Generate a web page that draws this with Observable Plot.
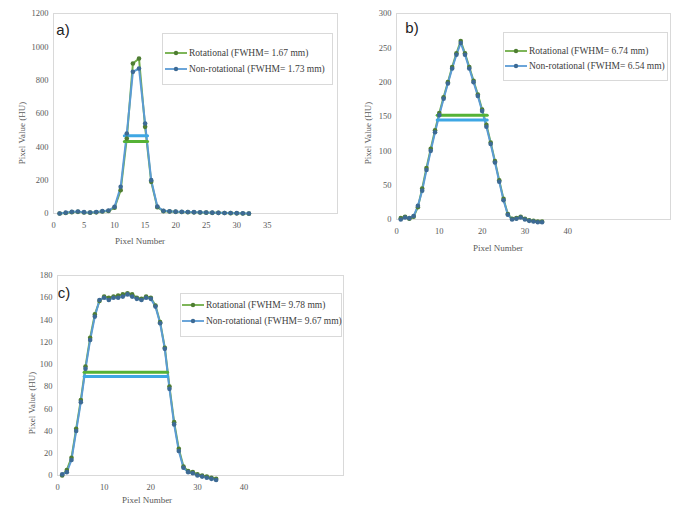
<!DOCTYPE html>
<html><head><meta charset="utf-8">
<script src="https://cdn.jsdelivr.net/npm/d3@7"></script>
<script src="https://cdn.jsdelivr.net/npm/@observablehq/plot@0.6"></script>
<style>
body{margin:0;background:#fff}
#root{position:relative;width:679px;height:510px;overflow:hidden;background:#fff;font-family:"Liberation Serif",serif;color:#595959}
.abs{position:absolute;white-space:nowrap}
.ytitle{font-size:9px;transform:translate(-50%,-50%) rotate(-90deg)}
.xtitle{font-size:9px;transform:translate(-50%,-50%)}
.plabel{font-family:"Liberation Sans",sans-serif;font-size:15px;color:#222;transform:translate(-50%,-50%)}
.legend{border:1px solid #d9d9d9;background:#fff;box-sizing:border-box}
.lrow{position:absolute;font-size:9.5px;color:#404040;display:flex;align-items:center;transform:translateY(-50%);white-space:nowrap}
</style></head>
<body><div id="root"></div>
<script>
// ---------- Panel a ----------
const pixA = [1,2,3,4,5,6,7,8,9,10,11,12,13,14,15,16,17,18,19,20,21,22,23,24,25,26,27,28,29,30,31,32];
const rotA = [0,3,8,10,6,5,7,12,15,35,140,450,900,930,520,190,38,14,12,10,9,8,7,6,5,4,4,3,2,1,0,-1];
const nonA = [0,5,10,12,8,6,9,14,18,40,160,480,850,870,540,200,42,16,13,11,10,9,8,7,6,5,4,3,3,2,1,0];
const fwhmXA = [11.6, 15.4];
const fwhmRotA = 432, fwhmNonA = 466;
const yTicksA = [0,200,400,600,800,1000,1200];
const xTicksA = [0,5,10,15,20,25,30,35];
const legendA = ["Rotational (FWHM= 1.67 mm)", "Non-rotational (FWHM= 1.73 mm)"];

// ---------- Panel b ----------
const pixB = [1,2,3,4,5,6,7,8,9,10,11,12,13,14,15,16,17,18,19,20,21,22,23,24,25,26,27,28,29,30,31,32,33,34];
const rotB = [2,4,1,4,18,45,75,103,130,155,178,200,222,242,260,242,222,202,182,160,138,112,85,57,30,8,1,2,4,1,-1,-2,-3,-3];
const nonB = [0,3,2,5,20,42,72,100,127,152,176,198,220,240,257,240,220,200,180,158,135,110,83,55,28,7,0,1,3,0,-2,-3,-4,-4];
const fwhmXB = [9.5, 21.2];
const fwhmRotB = 152, fwhmNonB = 145;
const yTicksB = [0,50,100,150,200,250,300];
const xTicksB = [0,10,20,30,40];
const legendB = ["Rotational (FWHM= 6.74 mm)", "Non-rotational (FWHM= 6.54 mm)"];

// ---------- Panel c ----------
const pixC = [1,2,3,4,5,6,7,8,9,10,11,12,13,14,15,16,17,18,19,20,21,22,23,24,25,26,27,28,29,30,31,32,33,34];
const rotC = [0,5,16,42,68,98,124,145,157,161,160,161,162,163,164,163,160,159,161,160,153,138,115,80,48,24,8,4,3,1,0,-1,-2,-3];
const nonC = [1,3,14,40,66,96,122,143,158,160,158,160,160,161,163,161,159,158,160,159,152,137,114,78,46,22,7,3,2,0,-1,-2,-3,-4];
const fwhmXC = [5.7, 23.6];
const fwhmRotC = 93, fwhmNonC = 89;
const yTicksC = [0,20,40,60,80,100,120,140,160,180];
const xTicksC = [0,10,20,30,40];
const legendC = ["Rotational (FWHM= 9.78 mm)", "Non-rotational (FWHM= 9.67 mm)"];

const xTitle = "Pixel Number", yTitle = "Pixel Value (HU)";

const GREEN = "#70AD47", BLUE = "#5B9BD5";
const GREEN_M = "#4f7d33", BLUE_M = "#3d6a94";
const GREEN_F = "#55b236", BLUE_F = "#3ea7e4";

const root = document.getElementById("root");

function addDiv(cls, x, y, text, extra) {
  const d = document.createElement("div");
  d.className = "abs " + cls;
  d.style.left = x + "px"; d.style.top = y + "px";
  if (text != null) d.textContent = text;
  if (extra) Object.assign(d.style, extra);
  root.appendChild(d);
  return d;
}

function legendSwatch(stroke, fill) {
  const ns = "http://www.w3.org/2000/svg";
  const s = document.createElementNS(ns, "svg");
  s.setAttribute("width", 22); s.setAttribute("height", 6);
  s.style.marginRight = "2px";
  const l = document.createElementNS(ns, "line");
  l.setAttribute("x1", 0); l.setAttribute("x2", 22); l.setAttribute("y1", 3); l.setAttribute("y2", 3);
  l.setAttribute("stroke", stroke); l.setAttribute("stroke-width", 1.8);
  const c = document.createElementNS(ns, "circle");
  c.setAttribute("cx", 11); c.setAttribute("cy", 3); c.setAttribute("r", 2.2); c.setAttribute("fill", fill);
  s.appendChild(l); s.appendChild(c);
  return s;
}

function panel(cfg) {
  const series = [];
  cfg.pix.forEach((p, i) => series.push({p, v: cfg.rot[i], s: "rot"}));
  cfg.pix.forEach((p, i) => series.push({p, v: cfg.non[i], s: "non"}));
  const rot = series.filter(d => d.s === "rot"), non = series.filter(d => d.s === "non");
  const fwR = cfg.fwX.map(x => ({x, y: cfg.fwRot}));
  const fwN = cfg.fwX.map(x => ({x, y: cfg.fwNon}));
  const svg = Plot.plot({
    width: cfg.w, height: cfg.h,
    marginLeft: cfg.ml, marginRight: cfg.mr, marginTop: cfg.mt, marginBottom: cfg.mb,
    style: {fontFamily: "'Liberation Serif', serif", fontSize: "8.5px", color: "#595959", background: "transparent", overflow: "visible"},
    x: {domain: [0, cfg.xMax]},
    y: {domain: [0, cfg.yMax]},
    marks: [
      Plot.frame({stroke: "#d9d9d9"}),
      Plot.axisX({ticks: cfg.xTicks, tickSize: 0, tickPadding: 8, label: null, tickFormat: d => String(d), fill: "#595959"}),
      Plot.axisY({ticks: cfg.yTicks, tickSize: 0, tickPadding: 5, label: null, tickFormat: d => String(d), fill: "#595959"}),
      Plot.line(rot, {x: "p", y: "v", stroke: GREEN, strokeWidth: 2}),
      Plot.line(non, {x: "p", y: "v", stroke: BLUE, strokeWidth: 2}),
      Plot.line(fwR, {x: "x", y: "y", stroke: GREEN_F, strokeWidth: 3}),
      Plot.line(fwN, {x: "x", y: "y", stroke: BLUE_F, strokeWidth: 3}),
      Plot.dot(rot, {x: "p", y: "v", r: 2.3, fill: GREEN_M, stroke: "none"}),
      Plot.dot(non, {x: "p", y: "v", r: 2.3, fill: BLUE_M, stroke: "none"})
    ]
  });
  svg.style.position = "absolute";
  svg.style.left = cfg.left + "px";
  svg.style.top = cfg.top + "px";
  root.appendChild(svg);

  addDiv("ytitle", cfg.yt[0], cfg.yt[1], yTitle);
  addDiv("xtitle", cfg.xt[0], cfg.xt[1], xTitle);
  addDiv("plabel", cfg.pl[0], cfg.pl[1], cfg.label);

  const lg = cfg.lg;
  addDiv("legend", lg.x, lg.y, null, {width: lg.w + "px", height: lg.h + "px"});
  const cols = [[GREEN, GREEN_M], [BLUE, BLUE_M]];
  cfg.legend.forEach((t, i) => {
    const r = addDiv("lrow", lg.x + lg.pad, lg.rows[i]);
    r.appendChild(legendSwatch(cols[i][0], cols[i][1]));
    const sp = document.createElement("span"); sp.textContent = t; r.appendChild(sp);
  });
}

panel({left: 0, top: 0, w: 340, h: 250, ml: 53, mr: 3, mt: 13, mb: 37,
  xMax: 46.5, yMax: 1200, xTicks: xTicksA, yTicks: yTicksA,
  pix: pixA, rot: rotA, non: nonA, fwX: fwhmXA, fwRot: fwhmRotA, fwNon: fwhmNonA,
  yt: [22, 133], xt: [140, 241], pl: [63, 29], label: "a)",
  lg: {x: 162, y: 33, w: 171, h: 52, pad: 3, rows: [53, 69]}, legend: legendA});

panel({left: 340, top: 0, w: 339, h: 260, ml: 56, mr: 9, mt: 13, mb: 41,
  xMax: 64, yMax: 300, xTicks: xTicksB, yTicks: yTicksB,
  pix: pixB, rot: rotB, non: nonB, fwX: fwhmXB, fwRot: fwhmRotB, fwNon: fwhmNonB,
  yt: [368, 133], xt: [498, 248], pl: [412, 27], label: "b)",
  lg: {x: 503, y: 32, w: 165, h: 49, pad: 2, rows: [51, 66]}, legend: legendB});

panel({left: 0, top: 260, w: 350, h: 250, ml: 57, mr: 7, mt: 15, mb: 35,
  xMax: 61.3, yMax: 180, xTicks: xTicksC, yTicks: yTicksC,
  pix: pixC, rot: rotC, non: nonC, fwX: fwhmXC, fwRot: fwhmRotC, fwNon: fwhmNonC,
  yt: [32, 403], xt: [147, 500], pl: [64, 292], label: "c)",
  lg: {x: 180, y: 293, w: 162, h: 44, pad: 2, rows: [305, 321]}, legend: legendC});
</script>
</body></html>
